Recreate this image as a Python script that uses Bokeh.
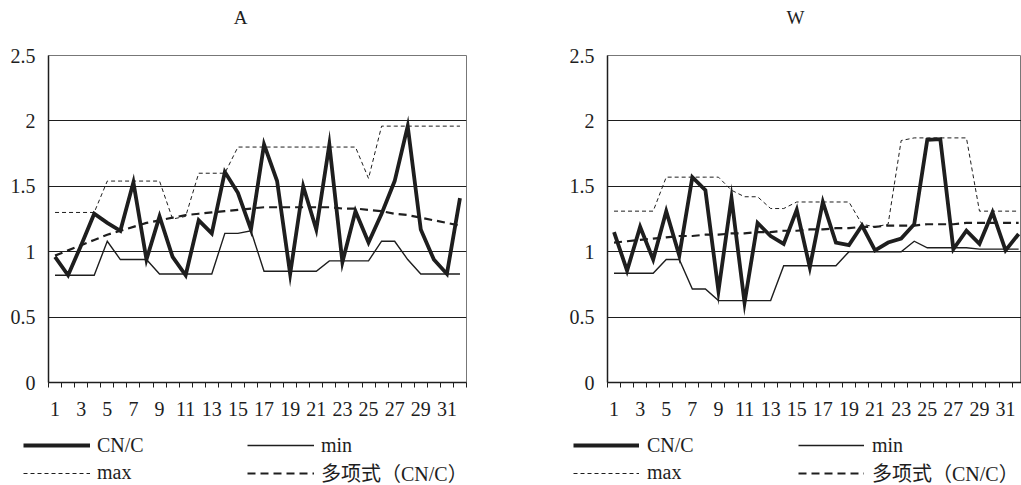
from bokeh.plotting import figure
from bokeh.layouts import row, column
from bokeh.models import Legend, LegendItem, FixedTicker, Range1d, Label
from bokeh.embed import file_html
from bokeh.resources import INLINE

# ---------------- data ----------------
cats = list(range(1, 33))
x_labels = {i: str(i) for i in range(1, 33, 2)}

A_cnc = [0.96, 0.82, 1.05, 1.29, 1.22, 1.16, 1.53, 0.94, 1.27, 0.96, 0.82, 1.24, 1.14, 1.61, 1.45, 1.17,
         1.82, 1.54, 0.83, 1.50, 1.17, 1.82, 0.92, 1.31, 1.07, 1.29, 1.54, 1.96, 1.17, 0.94, 0.83, 1.41]
A_min = [0.82, 0.82, 0.82, 0.82, 1.08, 0.94, 0.94, 0.94, 0.83, 0.83, 0.83, 0.83, 0.83, 1.14, 1.14, 1.16,
         0.85, 0.85, 0.85, 0.85, 0.85, 0.93, 0.93, 0.93, 0.93, 1.08, 1.08, 0.94, 0.83, 0.83, 0.83, 0.83]
A_max = [1.30, 1.30, 1.30, 1.30, 1.54, 1.54, 1.54, 1.54, 1.54, 1.25, 1.27, 1.60, 1.60, 1.60, 1.80, 1.80,
         1.80, 1.80, 1.80, 1.80, 1.80, 1.80, 1.80, 1.80, 1.56, 1.96, 1.96, 1.96, 1.96, 1.96, 1.96, 1.96]
A_trend = [0.97, 1.01, 1.05, 1.09, 1.13, 1.16, 1.19, 1.22, 1.24, 1.26, 1.28, 1.29, 1.30, 1.31, 1.32, 1.33,
           1.34, 1.34, 1.34, 1.34, 1.34, 1.34, 1.33, 1.33, 1.32, 1.31, 1.29, 1.28, 1.26, 1.24, 1.22, 1.20]

W_cnc = [1.15, 0.855, 1.19, 0.94, 1.31, 0.97, 1.57, 1.47, 0.70, 1.41, 0.61, 1.22, 1.12, 1.06, 1.32, 0.88,
         1.38, 1.07, 1.05, 1.20, 1.01, 1.07, 1.10, 1.21, 1.855, 1.86, 1.02, 1.16, 1.06, 1.30, 1.01, 1.135]
W_min = [0.835, 0.835, 0.835, 0.835, 0.94, 0.94, 0.715, 0.715, 0.626, 0.626, 0.626, 0.626, 0.626, 0.893, 0.893, 0.893,
         0.893, 0.893, 1.0, 1.0, 1.0, 1.0, 1.0, 1.08, 1.03, 1.03, 1.03, 1.03, 1.02, 1.02, 1.02, 1.02]
W_max = [1.31, 1.31, 1.31, 1.31, 1.57, 1.57, 1.57, 1.57, 1.57, 1.47, 1.42, 1.42, 1.33, 1.33, 1.38, 1.38,
         1.38, 1.38, 1.38, 1.21, 1.19, 1.21, 1.85, 1.87, 1.87, 1.87, 1.87, 1.87, 1.31, 1.31, 1.31, 1.31]
W_trend = [1.07, 1.08, 1.09, 1.10, 1.11, 1.12, 1.12, 1.13, 1.13, 1.14, 1.14, 1.15, 1.15, 1.16, 1.16, 1.17,
           1.17, 1.18, 1.18, 1.19, 1.19, 1.20, 1.20, 1.20, 1.21, 1.21, 1.21, 1.22, 1.22, 1.22, 1.22, 1.22]

y_ticks = [0, 0.5, 1, 1.5, 2, 2.5]
labels = ["CN/C", "min", "max", "多项式（CN/C）"]

FONT = "'Liberation Serif', 'Noto Sans CJK SC', serif"
INK = "#1e1e1e"

# line styles: (width, dash)
STY = {"cnc": (3.8, "solid"), "min": (1.4, "solid"), "max": (1.0, "4 3"), "trend": (2.2, "8 5")}


def blank(width, height):
    q = figure(width=width, height=height, output_backend="svg", toolbar_location=None,
               x_range=Range1d(0, 1), y_range=Range1d(0, 1), min_border=0,
               x_axis_location=None, y_axis_location=None, outline_line_color=None,
               background_fill_color="white", border_fill_color="white")
    q.grid.visible = False
    return q


def make_title(text, width, cx):
    q = blank(width, 30)
    q.add_layout(Label(x=cx, y=13, x_units="screen", y_units="screen", text=text,
                       text_align="center", text_baseline="middle", text_font=FONT,
                       text_font_size="19px", text_color=INK))
    return q


def make_chart(cnc, mn, mx, trend, width, bl, br, xend):
    p = figure(width=width, height=402, output_backend="svg", toolbar_location=None,
               x_range=Range1d(0.5, xend), y_range=Range1d(0, 2.5),
               min_border_left=bl, min_border_right=br, min_border_top=25, min_border_bottom=50,
               background_fill_color="white", border_fill_color="white")
    p.outline_line_color = "#777777"
    p.outline_line_width = 1

    xa = p.xaxis[0]
    xa.ticker = FixedTicker(ticks=list(range(1, 33, 2)),
                            minor_ticks=[c - 0.5 for c in cats] + [cats[-1] + 0.5])
    xa.major_label_overrides = x_labels
    xa.major_tick_out = 5
    xa.major_tick_in = 0
    xa.major_tick_line_color = None
    xa.minor_tick_out = 5
    xa.minor_tick_in = 0
    xa.minor_tick_line_color = INK
    xa.axis_line_color = INK
    xa.axis_line_width = 1.5
    xa.major_label_standoff = 14
    xa.major_label_text_font = FONT
    xa.major_label_text_font_size = "20px"
    xa.major_label_text_color = INK

    ya = p.yaxis[0]
    ya.ticker = FixedTicker(ticks=y_ticks)
    ya.major_tick_out = 0
    ya.major_tick_in = 0
    ya.minor_tick_out = 0
    ya.minor_tick_in = 0
    ya.axis_line_color = INK
    ya.axis_line_width = 1.5
    ya.major_label_standoff = 13
    ya.major_label_text_font = FONT
    ya.major_label_text_font_size = "20px"
    ya.major_label_text_color = INK

    p.xgrid.visible = False
    p.ygrid.ticker = FixedTicker(ticks=[0.5, 1, 1.5, 2, 2.5])
    p.ygrid.grid_line_color = INK
    p.ygrid.grid_line_width = 1.2

    for key, vals in (("max", mx), ("min", mn), ("trend", trend), ("cnc", cnc)):
        w, d = STY[key]
        p.line(cats, vals, line_color=INK, line_width=w, line_dash=d, line_join="miter")
    return p


def make_legend(width, leg_x, glyph_w, standoff, label_w):
    q = blank(width, 53)
    nan = [float("nan")] * len(cats)
    rs = {}
    for key in ("cnc", "min", "max", "trend"):
        w, d = STY[key]
        rs[key] = q.line(cats, nan, line_color=INK, line_width=w, line_dash=d)
    items = [LegendItem(label=labels[0], renderers=[rs["cnc"]]),
             LegendItem(label=labels[1], renderers=[rs["min"]]),
             LegendItem(label=labels[2], renderers=[rs["max"]]),
             LegendItem(label=labels[3], renderers=[rs["trend"]])]
    leg = Legend(items=items, orientation="horizontal", ncols=2,
                 location=(leg_x, -2), padding=0, margin=0, spacing=-2,
                 glyph_width=glyph_w, glyph_height=26, label_height=26,
                 label_standoff=standoff, label_width=label_w,
                 label_text_font=FONT, label_text_font_size="20px", label_text_color=INK,
                 border_line_color=None, background_fill_alpha=0)
    q.add_layout(leg, "center")
    return q


tA = make_title("A", 530, 240)
tW = make_title("W", 491, 265)
pA = make_chart(A_cnc, A_min, A_max, A_trend, width=530, bl=48, br=64, xend=32.5)
pW = make_chart(W_cnc, W_min, W_max, W_trend, width=491, bl=77, br=0, xend=32.22)
lA = make_legend(530, leg_x=23, glyph_w=67, standoff=7, label_w=150)
lW = make_legend(491, leg_x=43, glyph_w=66, standoff=8, label_w=151)

layout = column(row(tA, tW), row(pA, pW), row(lA, lW))
open("out.html", "w").write(file_html(layout, INLINE))
